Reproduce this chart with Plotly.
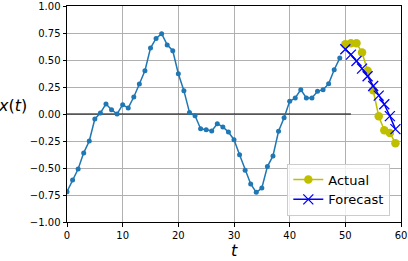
import plotly.graph_objects as go

t_series = list(range(0, 50))
x_series = [-0.72, -0.61, -0.51, -0.36, -0.25, -0.046, 0.01, 0.093, 0.04, 0.0,
            0.086, 0.056, 0.157, 0.278, 0.40, 0.61, 0.70, 0.743, 0.64, 0.586,
            0.373, 0.216, 0.015, -0.016, -0.136, -0.145, -0.157, -0.09, -0.12, -0.167,
            -0.238, -0.377, -0.52, -0.648, -0.725, -0.685, -0.487, -0.388, -0.16, -0.035,
            0.117, 0.148, 0.225, 0.148, 0.148, 0.21, 0.225, 0.28, 0.41, 0.518]

t_ahead = list(range(50, 60))
actual = [0.645, 0.655, 0.655, 0.57, 0.40, 0.22, -0.02, -0.15, -0.175, -0.27]
forecast = [0.60, 0.55, 0.49, 0.42, 0.35, 0.26, 0.17, 0.09, -0.02, -0.14]

hline_x = [0, 51]
hline_y = [0, 0]

x_ticks = [0, 10, 20, 30, 40, 50, 60]
y_ticks = [-1.0, -0.75, -0.5, -0.25, 0.0, 0.25, 0.5, 0.75, 1.0]

FONT = "DejaVu Sans"

fig = go.Figure()
fig.add_trace(go.Scatter(x=hline_x, y=hline_y, mode="lines",
                         line=dict(color="black", width=1.2),
                         showlegend=False, hoverinfo="skip"))
fig.add_trace(go.Scatter(x=t_series, y=x_series, mode="lines+markers",
                         line=dict(color="#1f77b4", width=1.5),
                         marker=dict(color="#1f77b4", size=5),
                         showlegend=False))
fig.add_trace(go.Scatter(x=t_ahead, y=actual, mode="lines+markers", name="Actual",
                         line=dict(color="#bfbf00", width=1.5),
                         marker=dict(color="#bfbf00", size=8.5)))
fig.add_trace(go.Scatter(x=t_ahead, y=forecast, mode="lines+markers", name="Forecast",
                         line=dict(color="#0000ff", width=1.5),
                         marker=dict(symbol="x-thin", size=10,
                                     line=dict(color="#0000ff", width=1.3))))

axis_common = dict(
    showgrid=True, gridcolor="#b0b0b0", gridwidth=0.8,
    showline=True, linecolor="black", linewidth=1, mirror=True,
    ticks="outside", ticklen=3.5, tickwidth=0.8, tickcolor="black",
    zeroline=False, automargin=False,
    tickfont=dict(family=FONT, size=10, color="black"),
)

fig.update_xaxes(range=[0, 60], tickvals=x_ticks, **axis_common)
fig.update_yaxes(range=[-1, 1], tickvals=y_ticks, tickformat=".2f", **axis_common)

fig.add_annotation(text="<i>x</i>(<i>t</i>)", xref="paper", yref="paper",
                   x=-0.212, y=0.54, xanchor="left", yanchor="middle",
                   showarrow=False, font=dict(family=FONT, size=16, color="black"))
fig.add_annotation(text="<i>t</i>", xref="paper", yref="paper",
                   x=0.5, y=-0.13, xanchor="center", yanchor="middle",
                   showarrow=False, font=dict(family=FONT, size=16, color="black"))

fig.update_layout(
    width=408, height=261,
    margin=dict(l=67, r=7, t=6, b=39),
    paper_bgcolor="white", plot_bgcolor="white",
    font=dict(family=FONT, size=10, color="black"),
    legend=dict(x=0.968, y=0.03, xanchor="right", yanchor="bottom",
                bgcolor="rgba(255,255,255,0.8)", bordercolor="#cccccc", borderwidth=1,
                font=dict(family=FONT, size=13, color="black"),
                itemwidth=30, tracegroupgap=0),
)

fig.write_html("out.html")
